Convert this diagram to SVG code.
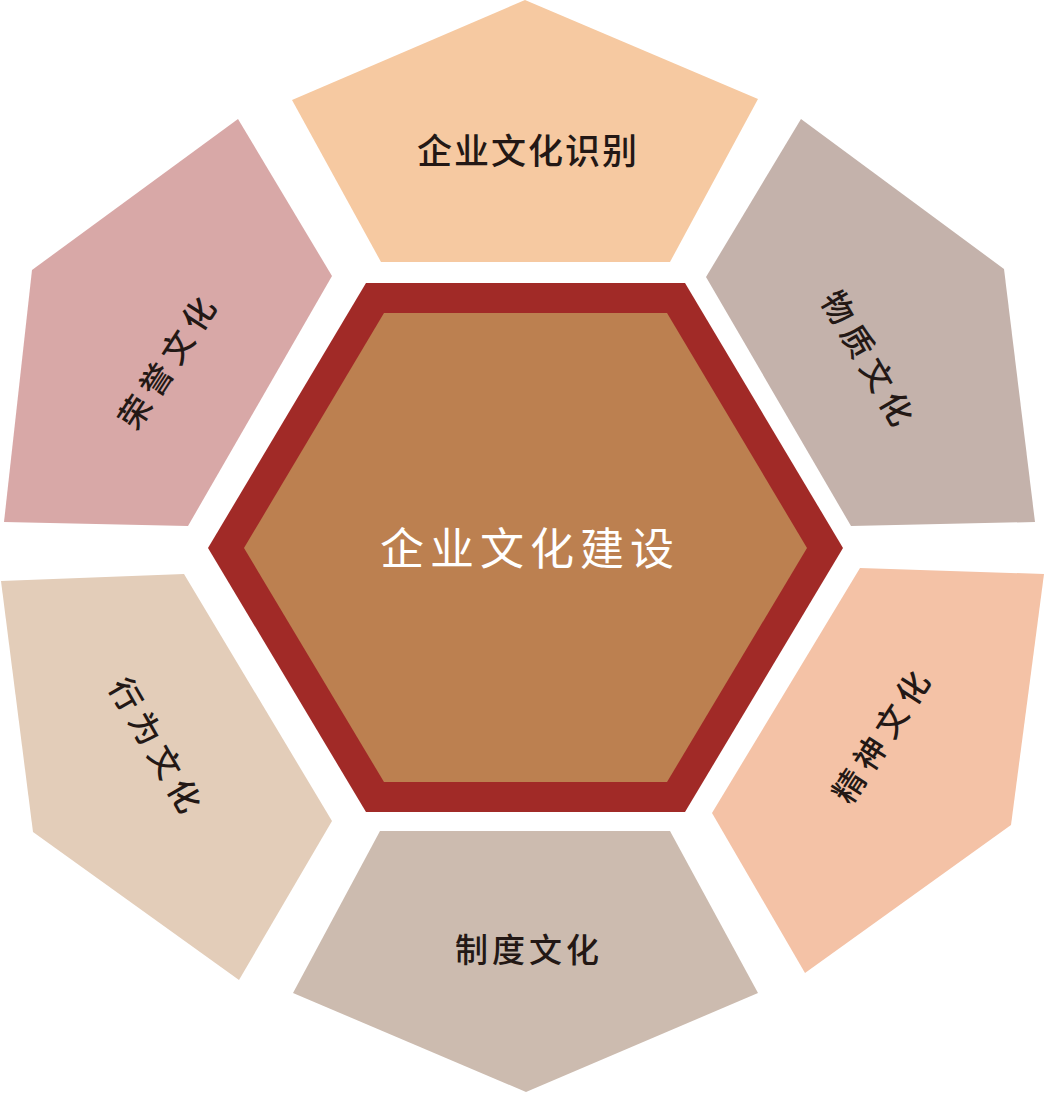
<svg xmlns="http://www.w3.org/2000/svg" width="1045" height="1093" viewBox="0 0 1045 1093">
  <style>
    .lbl { font-family: "Noto Sans CJK SC", "Noto Sans", sans-serif; font-weight: 500; fill: #231815; text-anchor: middle; dominant-baseline: central; }
    .side { font-size: 32px; letter-spacing: 7px; }
    .top { font-size: 35px; letter-spacing: 2px; }
    .bot { font-size: 33px; letter-spacing: 4px; }
    .center { font-family: "Noto Sans CJK SC", "Noto Sans", sans-serif; font-weight: 400; fill: #ffffff; font-size: 44px; letter-spacing: 6px; text-anchor: middle; dominant-baseline: central; }
  </style>
  <rect width="1045" height="1093" fill="#ffffff"/>
  <g id="connectors"></g>
  <g id="node-top">
    <polygon points="525,0 758,99 670,262 381,262 292,100" fill="#F6C9A1"/>
    <text class="lbl top" x="528" y="148">企业文化识别</text>
  </g>
  <g id="node-top-right">
    <polygon points="801,119 1004,269 1035,522 851,526 706,277" fill="#C4B2AB"/>
    <g transform="translate(869,357) rotate(60)"><text class="lbl side" x="3.5" y="0">物质文化</text></g>
  </g>
  <g id="node-right">
    <polygon points="860,568 1044,574 1011,825 805,973 712,813" fill="#F4C2A6"/>
    <g transform="translate(879,736) rotate(-57)"><text class="lbl side" x="3.5" y="0">精神文化</text></g>
  </g>
  <g id="node-bottom">
    <polygon points="380,831 670,831 758,993 526,1092 293,993" fill="#CCBBAF"/>
    <text class="lbl bot" x="529" y="948">制度文化</text>
  </g>
  <g id="node-bottom-left">
    <polygon points="1,581 184,574 332,821 239,980 33,832" fill="#E3CDB9"/>
    <g transform="translate(157,744) rotate(60)"><text class="lbl side" x="3.5" y="0">行为文化</text></g>
  </g>
  <g id="node-top-left">
    <polygon points="238,119 332,276 188,526 4,522 32,270" fill="#D8A8A7"/>
    <g transform="translate(165,362) rotate(-57)"><text class="lbl side" x="3.5" y="0">荣誉文化</text></g>
  </g>
  <g id="node-center">
    <polygon points="208,548 366,283 685,283 843,548 685,812 366,812" fill="#A12A27"/>
    <polygon points="244,548 384,313 667,313 807,548 667,782 384,782" fill="#BC8050"/>
    <text class="center" x="530" y="546">企业文化建设</text>
  </g>
</svg>
